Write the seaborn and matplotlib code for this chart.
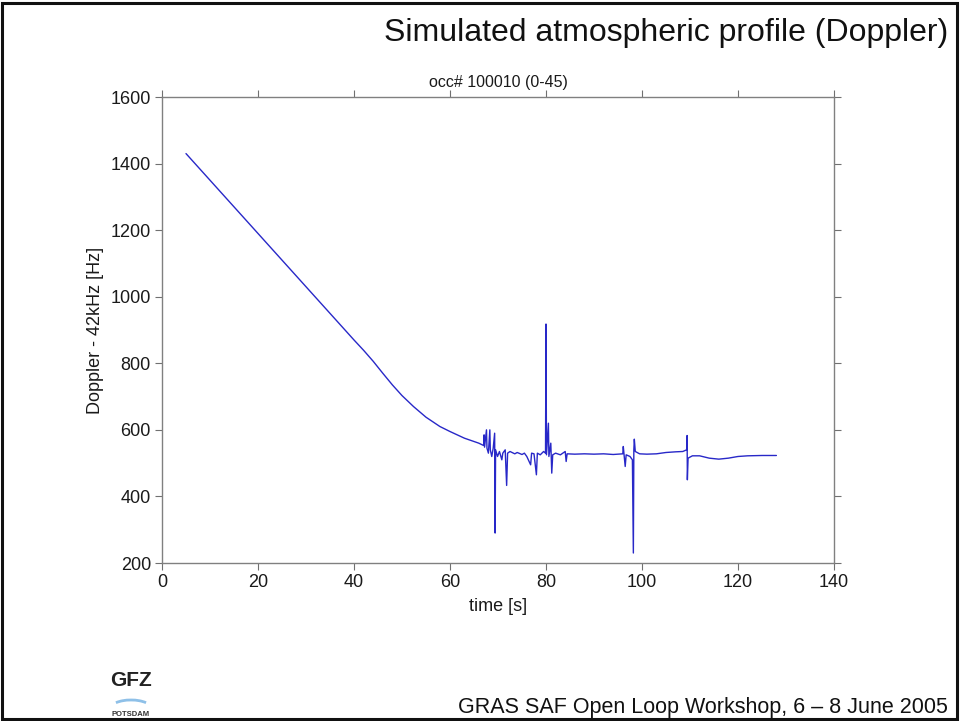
import matplotlib
matplotlib.use("Agg")
import matplotlib.pyplot as plt
import seaborn as sns
import pandas as pd
from matplotlib.patches import Rectangle, Arc

# ---- data ----
time_s = [5, 10, 15, 20, 25, 30, 35, 40, 42, 44, 46, 48, 50, 52.4, 55, 57.9, 60, 63, 66,
          67.0, 67.1, 67.2, 67.6, 67.7, 68.0, 68.3, 68.4, 68.7, 69.0, 69.3, 69.4, 69.5,
          69.9, 70.3, 70.8, 71.0, 71.5, 71.8, 72.0, 72.5, 73.5, 74.0, 75.0, 75.5, 76.0,
          76.8, 77.0, 77.5, 78.0, 78.2, 78.8, 79.5, 79.9, 80.0, 80.1, 80.5, 80.6, 81.0,
          81.2, 81.4, 82.0, 83.0, 84.0, 84.2, 84.4, 86, 88, 90, 92, 94, 96.0, 96.1,
          96.3, 96.5, 96.7, 97.5, 98.0, 98.2, 98.3, 98.4, 98.6, 99.5, 101, 103, 105,
          107, 108.5, 109.3, 109.4, 109.45, 109.6, 110.5, 112, 114, 116, 118, 120, 122,
          125, 128]
doppler_hz = [1430, 1350, 1270, 1190, 1110, 1030, 950, 870, 839, 806, 770, 735, 703, 670, 638, 610, 595, 575, 560,
              553, 585, 548, 600, 545, 530, 600, 540, 520, 545, 590, 290, 540,
              520, 535, 510, 530, 540, 433, 530, 535, 528, 532, 526, 530, 520,
              495, 530, 528, 465, 530, 525, 535, 530, 918, 525, 620, 520, 560,
              470, 525, 530, 525, 535, 505, 528, 527, 528, 527, 528, 526, 528, 550,
              520, 490, 525, 520, 510, 230, 540, 572, 535, 528, 527, 528, 532,
              534, 535, 540, 583, 450, 515, 522, 522, 515, 512, 515, 520, 522,
              523, 523]

x_ticks = [0, 20, 40, 60, 80, 100, 120, 140]
y_ticks = [200, 400, 600, 800, 1000, 1200, 1400, 1600]

title_text = "Simulated atmospheric profile (Doppler)"
plot_title = "occ# 100010 (0-45)"
x_label = "time [s]"
y_label = "Doppler - 42kHz [Hz]"
footer_text = "GRAS SAF Open Loop Workshop, 6 \u2013 8 June 2005"

df = pd.DataFrame({"time": time_s, "doppler": doppler_hz})

sns.set_style("ticks")
plt.rcParams["font.family"] = ["Liberation Sans", "DejaVu Sans"]

fig = plt.figure(figsize=(9.6, 7.21), dpi=100)
ax = fig.add_axes([162 / 960, 1 - 563 / 721, 672 / 960, 466 / 721])

sns.lineplot(data=df, x="time", y="doppler", ax=ax, estimator=None, sort=False,
             color="#2828c8", linewidth=1.0)

ax.set_xlim(0, 140)
ax.set_ylim(200, 1600)
ax.set_xticks(x_ticks)
ax.set_yticks(y_ticks)
ax.tick_params(axis="both", direction="out", length=5, width=0.8, color="#707070",
               labelsize=13, labelcolor="#1a1a1a", top=True, right=True,
               labeltop=False, labelright=False, pad=3)
for s in ax.spines.values():
    s.set_visible(True)
    s.set_color("#808080")
    s.set_linewidth(1.0)
ax.set_xlabel(x_label, fontsize=13, color="#1a1a1a", labelpad=5)
ax.set_ylabel(y_label, fontsize=13, color="#1a1a1a", labelpad=5)
ax.set_title(plot_title, fontsize=11.5, color="#1a1a1a", pad=7)

# slide decorations
fig.text(948 / 960, 1 - 33 / 721, title_text, ha="right", va="center",
         fontsize=23, color="#111111")
fig.text(948 / 960, 1 - 707 / 721, footer_text, ha="right", va="center",
         fontsize=15.5, color="#111111")

fig.text(131 / 960, 1 - 680 / 721, "GFZ", ha="center", va="center", fontsize=15,
         fontweight="bold", color="#222222")
fig.patches.append(Arc((131 / 960, 1 - 708 / 721), 40 / 960, 16 / 721, theta1=25, theta2=155,
                       transform=fig.transFigure, color="#8ec0e8", linewidth=2))
fig.text(131 / 960, 1 - 714 / 721, "POTSDAM", ha="center", va="center", fontsize=5.5,
         fontweight="bold", color="#333333")

fig.patches.append(Rectangle((2 / 960, 2 / 721), 955 / 960, 716 / 721, transform=fig.transFigure,
                             fill=False, edgecolor="#111111", linewidth=2.2))

fig.savefig("out.png", dpi=100)
